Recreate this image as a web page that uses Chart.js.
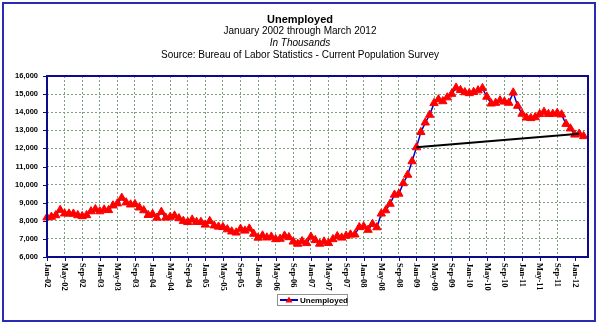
<!DOCTYPE html>
<html>
<head>
<meta charset="utf-8">
<script src="https://cdn.jsdelivr.net/npm/chart.js@4.4.1/dist/chart.umd.min.js"></script>
<style>
  html, body { margin: 0; padding: 0; background: #fff; }
  #wrap { width: 600px; height: 325px; position: relative; }
</style>
</head>
<body>
<div id="wrap"><canvas id="chart" width="600" height="325"></canvas></div>
<script>
// Unemployed persons, thousands, monthly Jan 2002 - Mar 2012 (index 0 = Jan-02)
const unemployed = [
    8182, 8215, 8304, 8599, 8399, 8393, 8390, 8304, 8251, 8307, 8520, 8640,
    8520, 8618, 8588, 8842, 8957, 9266, 9011, 8896, 8921, 8732, 8576, 8317,
    8370, 8167, 8491, 8170, 8212, 8286, 8136, 7990, 7927, 8061, 7932, 7934,
    7784, 7980, 7737, 7672, 7651, 7524, 7406, 7345, 7553, 7453, 7566, 7279,
    7064, 7184, 7072, 7120, 6980, 7001, 7175, 7091, 6847, 6727, 6872, 6762,
    7116, 6927, 6731, 6850, 6766, 6979, 7149, 7067, 7170, 7237, 7240, 7645,
    7685, 7497, 7822, 7637, 8395, 8575, 8937, 9438, 9494, 10074, 10538, 11286,
    12058, 12898, 13426, 13853, 14499, 14707, 14601, 14814, 15009, 15352, 15219, 15098,
    15046, 15113, 15202, 15325, 14849, 14474, 14512, 14648, 14579, 14516, 15081, 14348,
    13910, 13700, 13669, 13718, 13891, 14015, 13897, 13904, 13956, 13869, 13350, 13097,
    12758, 12806, 12673
];

// axis labels, one every 4 months
const tickLabels = [
    'Jan-02', 'May-02', 'Sep-02', 'Jan-03', 'May-03', 'Sep-03', 'Jan-04', 'May-04',
    'Sep-04', 'Jan-05', 'May-05', 'Sep-05', 'Jan-06', 'May-06', 'Sep-06', 'Jan-07',
    'May-07', 'Sep-07', 'Jan-08', 'May-08', 'Sep-08', 'Jan-09', 'May-09', 'Sep-09',
    'Jan-10', 'May-10', 'Sep-10', 'Jan-11', 'May-11', 'Sep-11', 'Jan-12'
];
const tickStep = 4;

// trend segment: Jan-09 to Feb-12
const trendMonths = [84, 121];

const titleLines = [
    { text: 'Unemployed', font: 'bold 11px "Liberation Sans", Arial' },
    { text: 'January 2002 through March 2012', font: '10px "Liberation Sans", Arial' },
    { text: 'In Thousands', font: 'italic 10px "Liberation Sans", Arial' },
    { text: 'Source: Bureau of Labor Statistics - Current Population Survey', font: '10px "Liberation Sans", Arial' }
];

const seriesPoints = unemployed.map((v, i) => ({ x: i, y: v }));
const trendPoints = trendMonths.map(m => ({ x: m, y: unemployed[m] }));

const decor = {
    id: 'decor',
    beforeDraw(chart) {
        const ctx = chart.ctx;
        ctx.save();
        ctx.fillStyle = '#fff';
        ctx.fillRect(0, 0, chart.width, chart.height);
        ctx.restore();
    },
    afterDraw(chart) {
        const { ctx, chartArea: a, scales: { x, y } } = chart;
        ctx.save();

        // outer frame
        ctx.strokeStyle = '#2a2ab8';
        ctx.lineWidth = 2;
        ctx.strokeRect(3, 3, 592, 318);

        // plot frame
        ctx.strokeStyle = '#0a0a8a';
        ctx.lineWidth = 2;
        ctx.strokeRect(a.left, a.top, a.right - a.left, a.bottom - a.top);

        // tick marks
        ctx.lineWidth = 1;
        ctx.beginPath();
        tickLabels.forEach((_, k) => {
            const px = Math.round(x.getPixelForValue(k * tickStep)) + 0.5;
            ctx.moveTo(px, a.bottom);
            ctx.lineTo(px, a.bottom + 4);
        });
        y.ticks.forEach(t => {
            const py = Math.round(y.getPixelForValue(t.value)) + 0.5;
            ctx.moveTo(a.left - 4, py);
            ctx.lineTo(a.left, py);
        });
        ctx.stroke();

        // x labels, rotated to read downward
        ctx.fillStyle = '#000';
        ctx.font = 'bold 8.5px "Liberation Serif", "Times New Roman"';
        ctx.textAlign = 'left';
        ctx.textBaseline = 'middle';
        tickLabels.forEach((lab, k) => {
            const px = x.getPixelForValue(k * tickStep);
            ctx.save();
            ctx.translate(px, a.bottom + 6);
            ctx.rotate(Math.PI / 2);
            ctx.fillText(lab, 0, 0);
            ctx.restore();
        });

        // titles
        ctx.textAlign = 'center';
        ctx.textBaseline = 'middle';
        titleLines.forEach((ln, i) => {
            ctx.font = ln.font;
            ctx.fillText(ln.text, 300, 19.5 + i * 12);
        });

        // legend
        const ds = chart.data.datasets[1];
        ctx.fillStyle = '#fff';
        ctx.fillRect(277, 294, 71, 12);
        ctx.strokeStyle = '#909090';
        ctx.lineWidth = 1;
        ctx.strokeRect(277.5, 294.5, 70, 11);
        ctx.strokeStyle = ds.borderColor;
        ctx.lineWidth = 2;
        ctx.beginPath();
        ctx.moveTo(280, 300);
        ctx.lineTo(298, 300);
        ctx.stroke();
        ctx.fillStyle = ds.pointBackgroundColor;
        ctx.beginPath();
        ctx.moveTo(289, 296.5);
        ctx.lineTo(292.5, 302.5);
        ctx.lineTo(285.5, 302.5);
        ctx.closePath();
        ctx.fill();
        ctx.fillStyle = '#000';
        ctx.font = 'bold 8px "Liberation Sans", Arial';
        ctx.textAlign = 'left';
        ctx.fillText(ds.label, 300, 300.5);

        ctx.restore();
    }
};

new Chart(document.getElementById('chart'), {
    type: 'line',
    data: {
        datasets: [
            {
                label: 'Trend',
                data: trendPoints,
                borderColor: '#000',
                borderWidth: 2,
                pointRadius: 0,
                order: 0
            },
            {
                label: 'Unemployed',
                data: seriesPoints,
                borderColor: '#0000c8',
                borderWidth: 1.5,
                pointStyle: 'triangle',
                pointRadius: 4.8,
                pointBackgroundColor: '#ff0000',
                pointBorderColor: '#ff0000',
                pointBorderWidth: 1,
                tension: 0,
                clip: false,
                order: 1
            }
        ]
    },
    options: {
        responsive: false,
        animation: false,
        layout: { padding: { top: 76, right: 12, bottom: 0, left: 0 } },
        plugins: {
            legend: { display: false },
            tooltip: { enabled: false },
            title: { display: false }
        },
        scales: {
            x: {
                type: 'linear',
                min: 0,
                max: 123,
                afterFit: s => { s.height = 68; },
                ticks: { display: false, stepSize: tickStep },
                grid: { color: '#7fa07f', drawTicks: false, lineWidth: 1 },
                border: { display: false, dash: [2, 2] }
            },
            y: {
                min: 6000,
                max: 16000,
                afterFit: s => { s.width = 47; },
                ticks: {
                    stepSize: 1000,
                    padding: 9,
                    color: '#000',
                    font: { family: '"Liberation Sans", Arial', size: 7.5, weight: 'bold' },
                    callback: v => v.toLocaleString('en-US')
                },
                grid: { color: '#7fa07f', drawTicks: false, lineWidth: 1 },
                border: { display: false, dash: [2, 2] }
            }
        }
    },
    plugins: [decor]
});
</script>
</body>
</html>
